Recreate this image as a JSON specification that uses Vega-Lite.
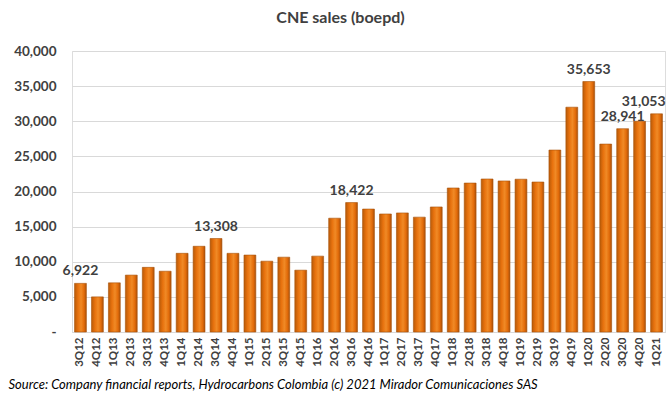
{
  "$schema": "https://vega.github.io/schema/vega-lite/v6.json",
  "width": 593,
  "height": 281,
  "autosize": "none",
  "padding": {"left": 72, "top": 51, "right": 4, "bottom": 65},
  "background": "white",
  "title": {
    "text": "CNE sales (boepd)",
    "font": "Lato",
    "fontSize": 16,
    "fontWeight": "bold",
    "color": "#404040",
    "anchor": "middle",
    "dx": -28,
    "offset": 18
  },
  "data": {
    "values": [
      {"q": "3Q12", "v": 6922, "label": "6,922"},
      {"q": "4Q12", "v": 5000},
      {"q": "1Q13", "v": 7000},
      {"q": "2Q13", "v": 8100},
      {"q": "3Q13", "v": 9200},
      {"q": "4Q13", "v": 8650},
      {"q": "1Q14", "v": 11200},
      {"q": "2Q14", "v": 12200},
      {"q": "3Q14", "v": 13308, "label": "13,308"},
      {"q": "4Q14", "v": 11200},
      {"q": "1Q15", "v": 10950},
      {"q": "2Q15", "v": 10080},
      {"q": "3Q15", "v": 10650},
      {"q": "4Q15", "v": 8800},
      {"q": "1Q16", "v": 10800},
      {"q": "2Q16", "v": 16200},
      {"q": "3Q16", "v": 18422, "label": "18,422"},
      {"q": "4Q16", "v": 17500},
      {"q": "1Q17", "v": 16800},
      {"q": "2Q17", "v": 16950},
      {"q": "3Q17", "v": 16350},
      {"q": "4Q17", "v": 17800},
      {"q": "1Q18", "v": 20500},
      {"q": "2Q18", "v": 21200},
      {"q": "3Q18", "v": 21780},
      {"q": "4Q18", "v": 21500},
      {"q": "1Q19", "v": 21750},
      {"q": "2Q19", "v": 21350},
      {"q": "3Q19", "v": 25900},
      {"q": "4Q19", "v": 32000},
      {"q": "1Q20", "v": 35653, "label": "35,653"},
      {"q": "2Q20", "v": 26750},
      {"q": "3Q20", "v": 28941, "label": "28,941"},
      {"q": "4Q20", "v": 30000},
      {"q": "1Q21", "v": 31053, "label": "31,053"}
    ]
  },
  "encoding": {
    "x": {
      "field": "q",
      "type": "nominal",
      "sort": null,
      "scale": {"paddingInner": 0.3, "paddingOuter": 0.15},
      "axis": {
        "title": "Source:  Company financial reports,  Hydrocarbons Colombia (c) 2021 Mirador Comunicaciones SAS",
        "titleFont": "Lato",
        "titleFontSize": 13,
        "titleFontStyle": "italic",
        "titleFontWeight": "normal",
        "titleColor": "#000000",
        "titleAlign": "left",
        "titleAnchor": "start",
        "titleX": -64,
        "titleY": 46,
        "labelAngle": -90,
        "labelFont": "Lato",
        "labelFontSize": 11.5,
        "labelFontWeight": "bold",
        "labelColor": "#404040",
        "labelPadding": 5,
        "ticks": false,
        "domainColor": "#d9d9d9",
        "grid": false
      }
    },
    "y": {
      "field": "v",
      "type": "quantitative",
      "scale": {"domain": [0, 40000], "nice": false},
      "axis": {
        "title": null,
        "values": [0, 5000, 10000, 15000, 20000, 25000, 30000, 35000, 40000],
        "labelExpr": "datum.value === 0 ? '-' : format(datum.value, ',')",
        "labelFont": "Lato",
        "labelFontSize": 13.5,
        "labelFontWeight": "bold",
        "labelColor": "#404040",
        "labelPadding": 16,
        "ticks": false,
        "domain": false,
        "gridColor": "#d9d9d9",
        "gridWidth": 1
      }
    }
  },
  "layer": [
    {
      "mark": {
        "type": "bar",
        "stroke": "#a8520a",
        "strokeWidth": 0.6,
        "color": {
          "gradient": "linear",
          "x1": 0, "y1": 0, "x2": 1, "y2": 0,
          "stops": [
            {"offset": 0, "color": "#b85a08"},
            {"offset": 0.3, "color": "#e8720e"},
            {"offset": 0.55, "color": "#f08a26"},
            {"offset": 0.8, "color": "#e36c0a"},
            {"offset": 1, "color": "#a9500a"}
          ]
        }
      }
    },
    {
      "transform": [{"filter": "isValid(datum.label) && datum.q !== '1Q21'"}],
      "mark": {
        "type": "text",
        "baseline": "bottom",
        "dy": -5,
        "font": "Lato",
        "fontSize": 14,
        "fontWeight": "bold",
        "color": "#404040"
      },
      "encoding": {
        "text": {"field": "label", "type": "nominal"}
      }
    },
    {
      "transform": [{"filter": "datum.q === '1Q21'"}],
      "mark": {
        "type": "text",
        "baseline": "bottom",
        "align": "right",
        "dx": 9,
        "dy": -5,
        "font": "Lato",
        "fontSize": 14,
        "fontWeight": "bold",
        "color": "#404040"
      },
      "encoding": {
        "text": {"field": "label", "type": "nominal"}
      }
    }
  ]
}
